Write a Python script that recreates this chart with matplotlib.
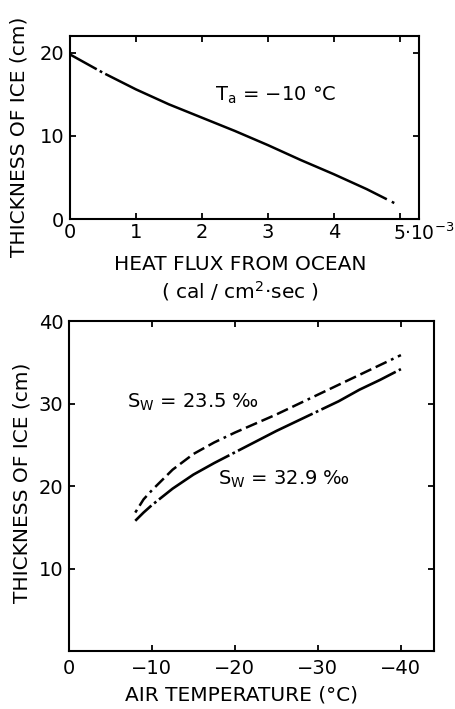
import numpy as np
import matplotlib.pyplot as plt

plt.rcParams['font.family'] = ['DejaVu Sans']
plt.rcParams['lines.scale_dashes'] = False
plt.rcParams['mathtext.default'] = 'regular'

# top panel: ice thickness vs ocean heat flux (Ta = -10 C), flux in 1e-3 cal/cm2 s
flux = [0, 0.5, 1.0, 1.5, 2.0, 2.5, 3.0, 3.5, 4.0, 4.5, 4.8, 4.95]
thick_flux = [19.8, 17.6, 15.6, 13.8, 12.2, 10.6, 8.9, 7.1, 5.4, 3.6, 2.4, 1.8]

# bottom panel: ice thickness vs air temperature
temp = [-8, -9, -10, -12.5, -15, -17.5, -20, -22.5, -25, -27.5, -30,
        -32.5, -35, -37.5, -40]
thick_235 = [16.8, 18.4, 19.5, 22.0, 23.9, 25.3, 26.5, 27.6, 28.7, 29.9,
             31.1, 32.3, 33.5, 34.7, 35.9]
thick_329 = [15.8, 16.8, 17.7, 19.7, 21.4, 22.8, 24.1, 25.4, 26.7, 27.9,
             29.1, 30.3, 31.7, 32.9, 34.2]

fig = plt.figure(figsize=(4.56, 7.09), dpi=100)

tick_kw = dict(direction='in', length=4, width=1.3, labelsize=14,
               top=True, right=True)
lab_fs = 14.5

# ---- top panel
ax1 = fig.add_axes([0.1535, 0.691, 0.765, 0.258])
ax1.plot(flux, thick_flux, color='black', lw=1.8,
         linestyle=(0, (22, 2.5, 2, 2.5, 222, 4, 2, 40)))
ax1.set_xlim(0, 5.29)
ax1.set_ylim(0, 22)
ax1.set_xticks([0, 1, 2, 3, 4, 5])
ax1.set_xticklabels(['0', '1', '2', '3', '4', ''])
ax1.set_yticks([0, 10, 20])
ax1.tick_params(**tick_kw)
ax1.tick_params(axis='x', pad=3)
ax1.tick_params(axis='y', pad=4)
for s in ax1.spines.values():
    s.set_linewidth(1.5)
# last tick label with the 10^-3 factor
ax1.text(4.9, -0.45, '5·10$^{-3}$', fontsize=13.5, ha='left', va='top',
         clip_on=False)
ax1.text(2.2, 14.2, '$T_a$ = −10 °C', fontsize=14)
fig.text(0.527, 1 - 265 / 709, 'HEAT FLUX FROM OCEAN', fontsize=lab_fs,
         ha='center', va='center')
fig.text(0.527, 1 - 291 / 709, '( cal / cm$^2$·sec )', fontsize=lab_fs,
         ha='center', va='center')
fig.text(19 / 456, 1 - 137 / 709, 'THICKNESS OF ICE (cm)', fontsize=lab_fs,
         rotation=90, ha='center', va='center')

# ---- bottom panel
ax2 = fig.add_axes([0.151, 0.0818, 0.801, 0.465])
ax2.plot(temp, thick_235, color='black', lw=1.8,
         linestyle=(43, (8.7, 3.5, 8.7, 3.5, 8.7, 3.5, 8.7, 3.5, 8.7, 3.5, 2, 3.5)))
ax2.plot(temp, thick_329, color='black', lw=1.9,
         linestyle=(44, (60, 2.5, 2, 2.5)))
ax2.set_xlim(0, -44)
ax2.set_ylim(0, 40)
ax2.set_xticks([0, -10, -20, -30, -40])
ax2.set_yticks([10, 20, 30, 40])
ax2.tick_params(**tick_kw)
ax2.tick_params(axis='x', pad=6)
ax2.tick_params(axis='y', pad=4)
for s in ax2.spines.values():
    s.set_linewidth(1.5)
ax2.text(-7, 29.5, '$S_W$ = 23.5 ‰', fontsize=14)
ax2.text(-18, 20.2, '$S_W$ = 32.9 ‰', fontsize=14)
fig.text(0.53, 1 - 695 / 709, 'AIR TEMPERATURE (°C)', fontsize=lab_fs,
         ha='center', va='center')
fig.text(22 / 456, 1 - 483 / 709, 'THICKNESS OF ICE (cm)', fontsize=lab_fs,
         rotation=90, ha='center', va='center')

fig.savefig('out.png', dpi=100)
